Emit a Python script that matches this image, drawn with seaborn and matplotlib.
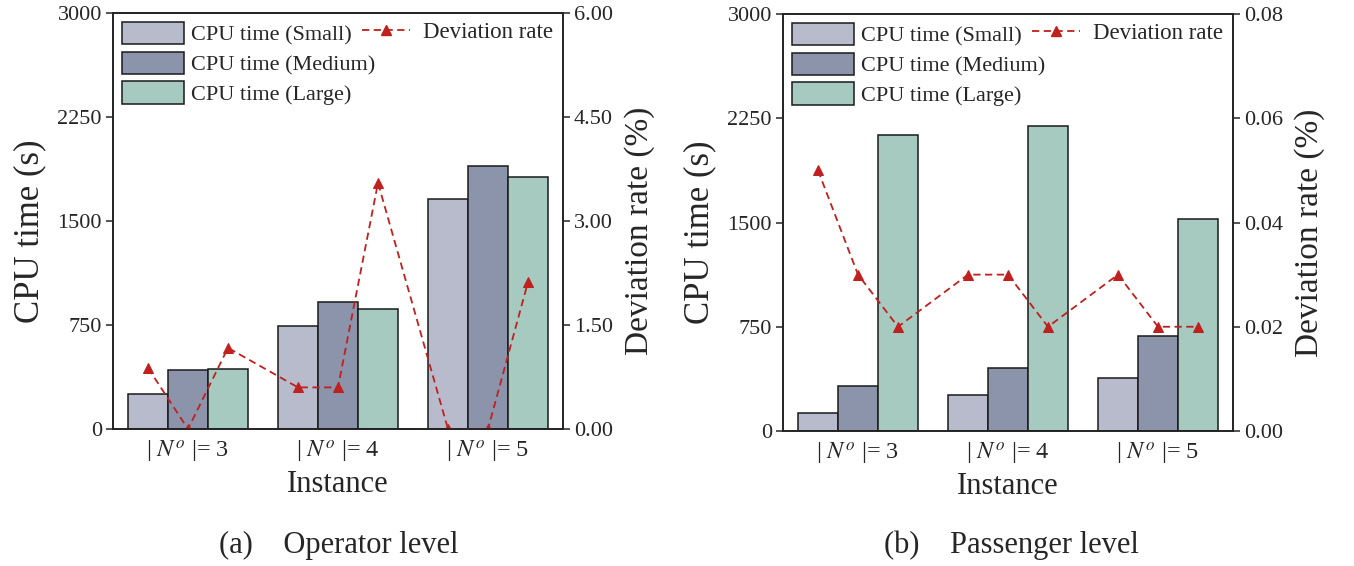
import numpy as np
import pandas as pd
from matplotlib import pyplot as plt
from matplotlib.patches import Patch
from matplotlib.lines import Line2D
import seaborn as sns

sns.set_theme(style='ticks')
plt.rcParams['font.family'] = ['Liberation Serif', 'DejaVu Serif']
plt.rcParams['mathtext.fontset'] = 'stix'

# data
instances = [r'| $N^o$ |= 3', r'| $N^o$ |= 4', r'| $N^o$ |= 5']
sizes = ['Small', 'Medium', 'Large']

op_small = [252, 743, 1656]
op_medium = [425, 916, 1894]
op_large = [430, 863, 1817]
op_dev = [0.88, 0.0, 1.17, 0.60, 0.60, 3.55, 0.0, 0.0, 2.12]

pa_small = [132, 257, 381]
pa_medium = [326, 451, 683]
pa_large = [2127, 2192, 1525]
pa_dev = [0.05, 0.03, 0.02, 0.03, 0.03, 0.02, 0.03, 0.02, 0.02]

bar_colors = ['#b7bbcc', '#8b94aa', '#a6c9c0']
red = '#c0201e'
fs_tick = 16


def cpu_frame(small, medium, large):
    rows = []
    for vals, size in zip([small, medium, large], sizes):
        for inst, v in zip(instances, vals):
            rows.append({'instance': inst, 'size': size, 'cpu': v})
    return pd.DataFrame(rows)


def style_axes(ax):
    for sp in ax.spines.values():
        sp.set_visible(True)
        sp.set_linewidth(1.2)
        sp.set_color('#222222')


def draw_panel(ax, small, medium, large, dev, dev_max, caption, cx):
    df = cpu_frame(small, medium, large)
    sns.barplot(data=df, x='instance', y='cpu', hue='size', order=instances,
                hue_order=sizes, palette=bar_colors, width=0.8, saturation=1,
                edgecolor='#1a1a1a', linewidth=1.1, legend=False, ax=ax)
    ax.set_xlim(-0.5, 2.5)
    ax.set_ylim(0, 3000)
    ax.set_yticks(np.linspace(0, 3000, 5))
    ax.set_yticklabels(['0', '750', '1500', '2250', '3000'])
    ax.tick_params(axis='y', direction='out', length=5, width=1.1, labelsize=fs_tick, pad=3)
    ax.tick_params(axis='x', length=0, labelsize=17.5, pad=7)
    ax.set_xlabel('Instance', fontsize=22, labelpad=4)
    ax.set_ylabel('CPU time (s)', fontsize=25, labelpad=8)
    ax.yaxis.label.set_y(0.476)

    xs = sorted(p.get_x() + p.get_width() / 2 for p in ax.patches)
    tw = ax.twinx()
    sns.lineplot(x=xs, y=dev, ax=tw, color=red, linestyle=(0, (4, 2.5)),
                 linewidth=1.3, marker='^', markersize=7, markeredgecolor=red)
    ticks = np.linspace(0, dev_max, 5)
    tw.set_ylim(0, dev_max)
    tw.set_yticks(ticks)
    tw.set_yticklabels(['%.2f' % v for v in ticks])
    tw.tick_params(axis='y', direction='out', length=5, width=1.1, labelsize=fs_tick, pad=3)
    tw.set_ylabel('Deviation rate (%)', fontsize=24, labelpad=8)
    tw.yaxis.label.set_y(0.476)
    style_axes(ax)
    style_axes(tw)

    handles = [Patch(facecolor=c, edgecolor='#1a1a1a', linewidth=1.1) for c in bar_colors]
    labels = ['CPU time (%s)' % s for s in sizes]
    leg1 = tw.legend(handles, labels, loc='upper left', bbox_to_anchor=(0, 1),
                     frameon=False, fontsize=fs_tick, handlelength=2.8,
                     handleheight=1.15, labelspacing=0.28, handletextpad=0.3,
                     borderaxespad=0.2, borderpad=0.2)
    tw.add_artist(leg1)
    line_h = Line2D([], [], color=red, linestyle=(0, (4, 2.5)), linewidth=1.3,
                    marker='^', markersize=7, markeredgecolor=red)
    tw.legend([line_h], ['Deviation rate'], loc='upper left', bbox_to_anchor=(0.532, 1),
              frameon=False, fontsize=16.5, handlelength=2.1,
              handletextpad=0.6, borderaxespad=0.2, borderpad=0.2)

    ax.figure.text(cx, 1 - 545 / 566, caption, fontsize=22, ha='center', va='center')


fig = plt.figure(figsize=(13.54, 5.66), dpi=100)
ax_a = fig.add_axes([113 / 1354, 1 - 429 / 566, 450 / 1354, 416 / 566])
ax_b = fig.add_axes([783 / 1354, 1 - 431 / 566, 450 / 1354, 417 / 566])

draw_panel(ax_a, op_small, op_medium, op_large, op_dev, 6.0,
           '(a)    Operator level', 339 / 1354)
draw_panel(ax_b, pa_small, pa_medium, pa_large, pa_dev, 0.08,
           '(b)    Passenger level', 1011 / 1354)

fig.savefig('out.png', dpi=100)
